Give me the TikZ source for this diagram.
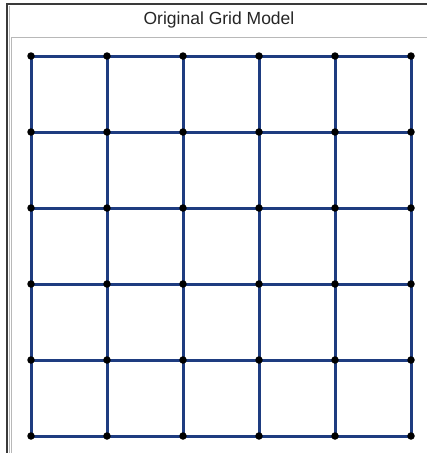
\documentclass[tikz,border=0pt]{standalone}
\usepackage{fontspec}
\setmainfont{Liberation Sans}
\usetikzlibrary{positioning}
\definecolor{gridblue}{HTML}{1E3C80}
\definecolor{framegrey}{HTML}{3A3A3A}
\definecolor{panelgrey}{HTML}{B8B8B8}
\tikzset{
  gridnode/.style={circle, fill=black, inner sep=0pt, minimum size=7.5pt},
  gridedge/.style={line width=3pt, gridblue},
  titletext/.style={font=\fontsize{17.5}{20}\selectfont, color=black!85},
}

\begin{document}
\begin{tikzpicture}[x=1pt, y=-1pt]
\useasboundingbox (0,0) rectangle (427,453);
\fill[white] (0,0) rectangle (427,453);
% window frame and panel
\draw[line width=1.6pt, framegrey] (7,453) -- (7,4) -- (427,4);
\draw[line width=1pt, panelgrey] (11.5,453) -- (11.5,37) -- (427,37);
\draw[line width=0.8pt, panelgrey] (9,453) -- (9,6);
\node[titletext] (title) at (219,20) {Original Grid Model};
% grid points
\foreach \i in {0,...,5}
  \foreach \j in {0,...,5}
    \coordinate (p-\i-\j) at ({31+76*\i},{56+76*\j});
% edges
\foreach \i in {0,...,5}
  \foreach \j [count=\k] in {0,...,4} {
    \draw[gridedge] (p-\i-\j) -- (p-\i-\k);
    \draw[gridedge] (p-\j-\i) -- (p-\k-\i);
  }
% nodes
\foreach \i in {0,...,5}
  \foreach \j in {0,...,5}
    \node[gridnode] (n-\i-\j) at (p-\i-\j) {};
\end{tikzpicture}
\end{document}
